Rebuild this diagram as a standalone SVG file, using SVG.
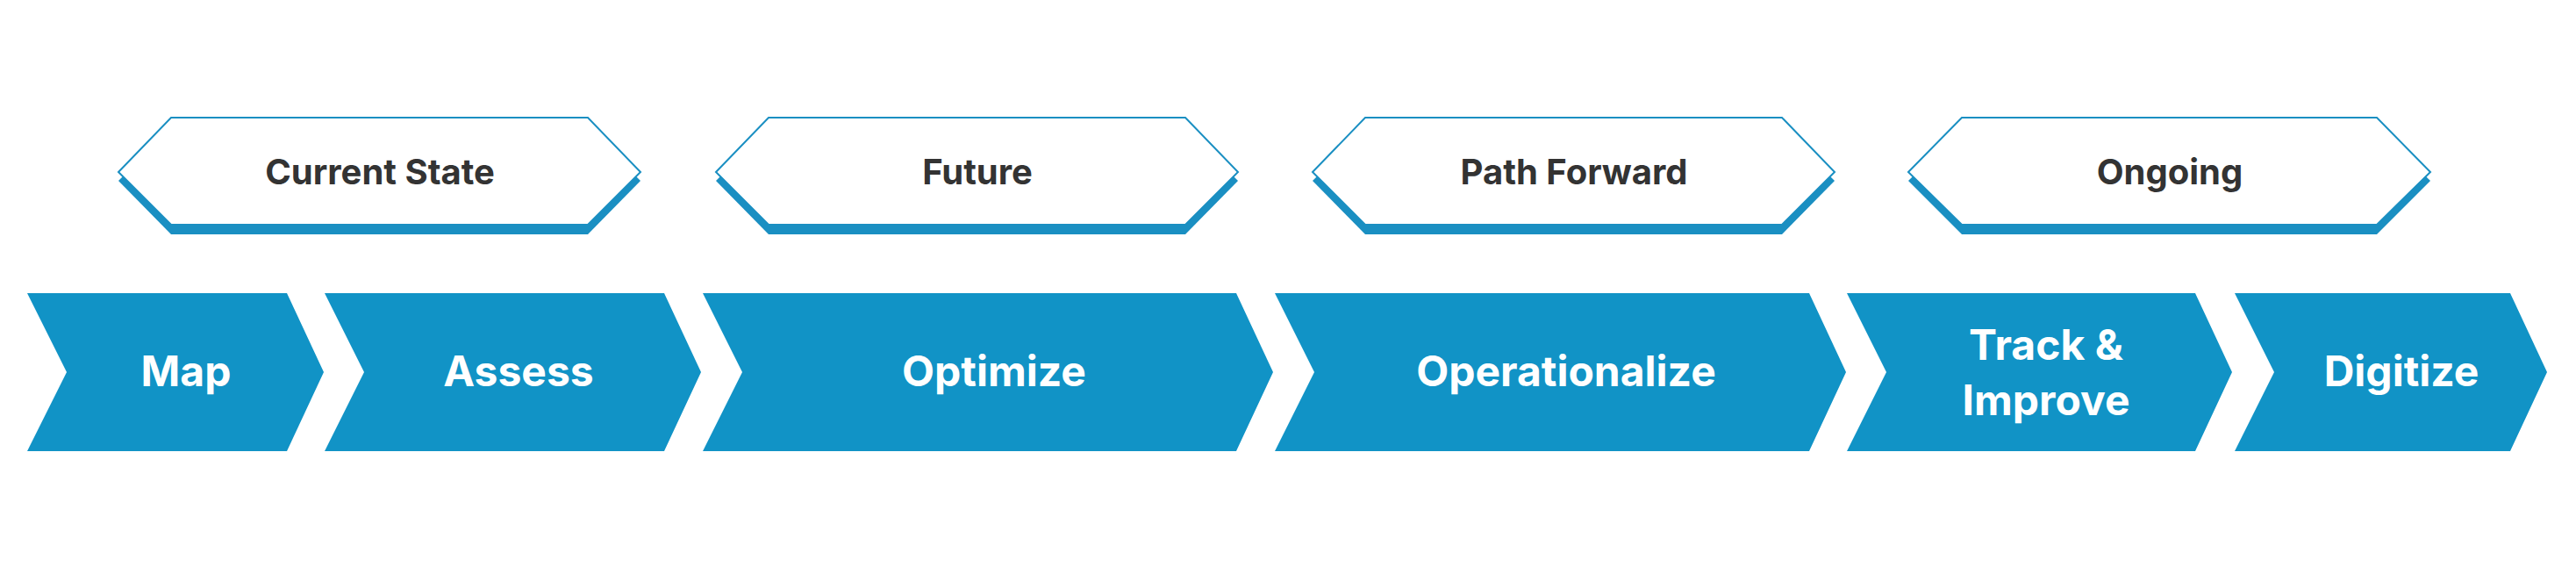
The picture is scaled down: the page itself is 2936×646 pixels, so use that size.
<svg xmlns="http://www.w3.org/2000/svg" width="2936" height="646" viewBox="0 0 2936 646">
<style>
.chev{fill:#1193c6}
.hex{fill:#fff;stroke:#1a8fc2;stroke-width:2}
.sh{fill:#1a8fc2}
.ct{font-family:Inter,"Open Sans",sans-serif;font-weight:700;font-size:48px;fill:#fff;text-anchor:middle}
.ht{font-family:Inter,"Open Sans",sans-serif;font-weight:700;font-size:40px;fill:#333;text-anchor:middle}
</style>
<rect width="2936" height="646" fill="#fff"/>
<g id="connectors"></g>
<g id="hex-current"><polygon class="sh" points="135,206 195,267 670,267 730,206 670,146 195,146"/><polygon class="hex" points="135,196 195,134 670,134 730,196 670,256 195,256"/><text class="ht" x="433" y="210">Current State</text></g>
<g id="hex-future"><polygon class="sh" points="816,206 876,267 1351,267 1411,206 1351,146 876,146"/><polygon class="hex" points="816,196 876,134 1351,134 1411,196 1351,256 876,256"/><text class="ht" x="1114" y="210">Future</text></g>
<g id="hex-path"><polygon class="sh" points="1496,206 1556,267 2031,267 2091,206 2031,146 1556,146"/><polygon class="hex" points="1496,196 1556,134 2031,134 2091,196 2031,256 1556,256"/><text class="ht" x="1794" y="210">Path Forward</text></g>
<g id="hex-ongoing"><polygon class="sh" points="2175,206 2236,267 2709,267 2770,206 2709,146 2236,146"/><polygon class="hex" points="2175,196 2236,134 2709,134 2770,196 2709,256 2236,256"/><text class="ht" x="2473" y="210">Ongoing</text></g>
<g id="map"><polygon class="chev" points="31,334 327,334 369,424 327,514 31,514 76,424"/><text class="ct" x="212" y="440">Map</text></g>
<g id="assess"><polygon class="chev" points="370,334 757,334 799,424 757,514 370,514 415,424"/><text class="ct" x="591" y="440">Assess</text></g>
<g id="optimize"><polygon class="chev" points="801,334 1409,334 1451,424 1409,514 801,514 846,424"/><text class="ct" x="1133" y="440">Optimize</text></g>
<g id="operationalize"><polygon class="chev" points="1453,334 2062,334 2104,424 2062,514 1453,514 1498,424"/><text class="ct" x="1785" y="440">Operationalize</text></g>
<g id="track"><polygon class="chev" points="2105,334 2502,334 2544,424 2502,514 2105,514 2150,424"/><text class="ct" x="2332" y="410">Track &amp;</text><text class="ct" x="2332" y="473">Improve</text></g>
<g id="digitize"><polygon class="chev" points="2547,334 2861,334 2903,424 2861,514 2547,514 2592,424"/><text class="ct" x="2737" y="440">Digitize</text></g>
</svg>
